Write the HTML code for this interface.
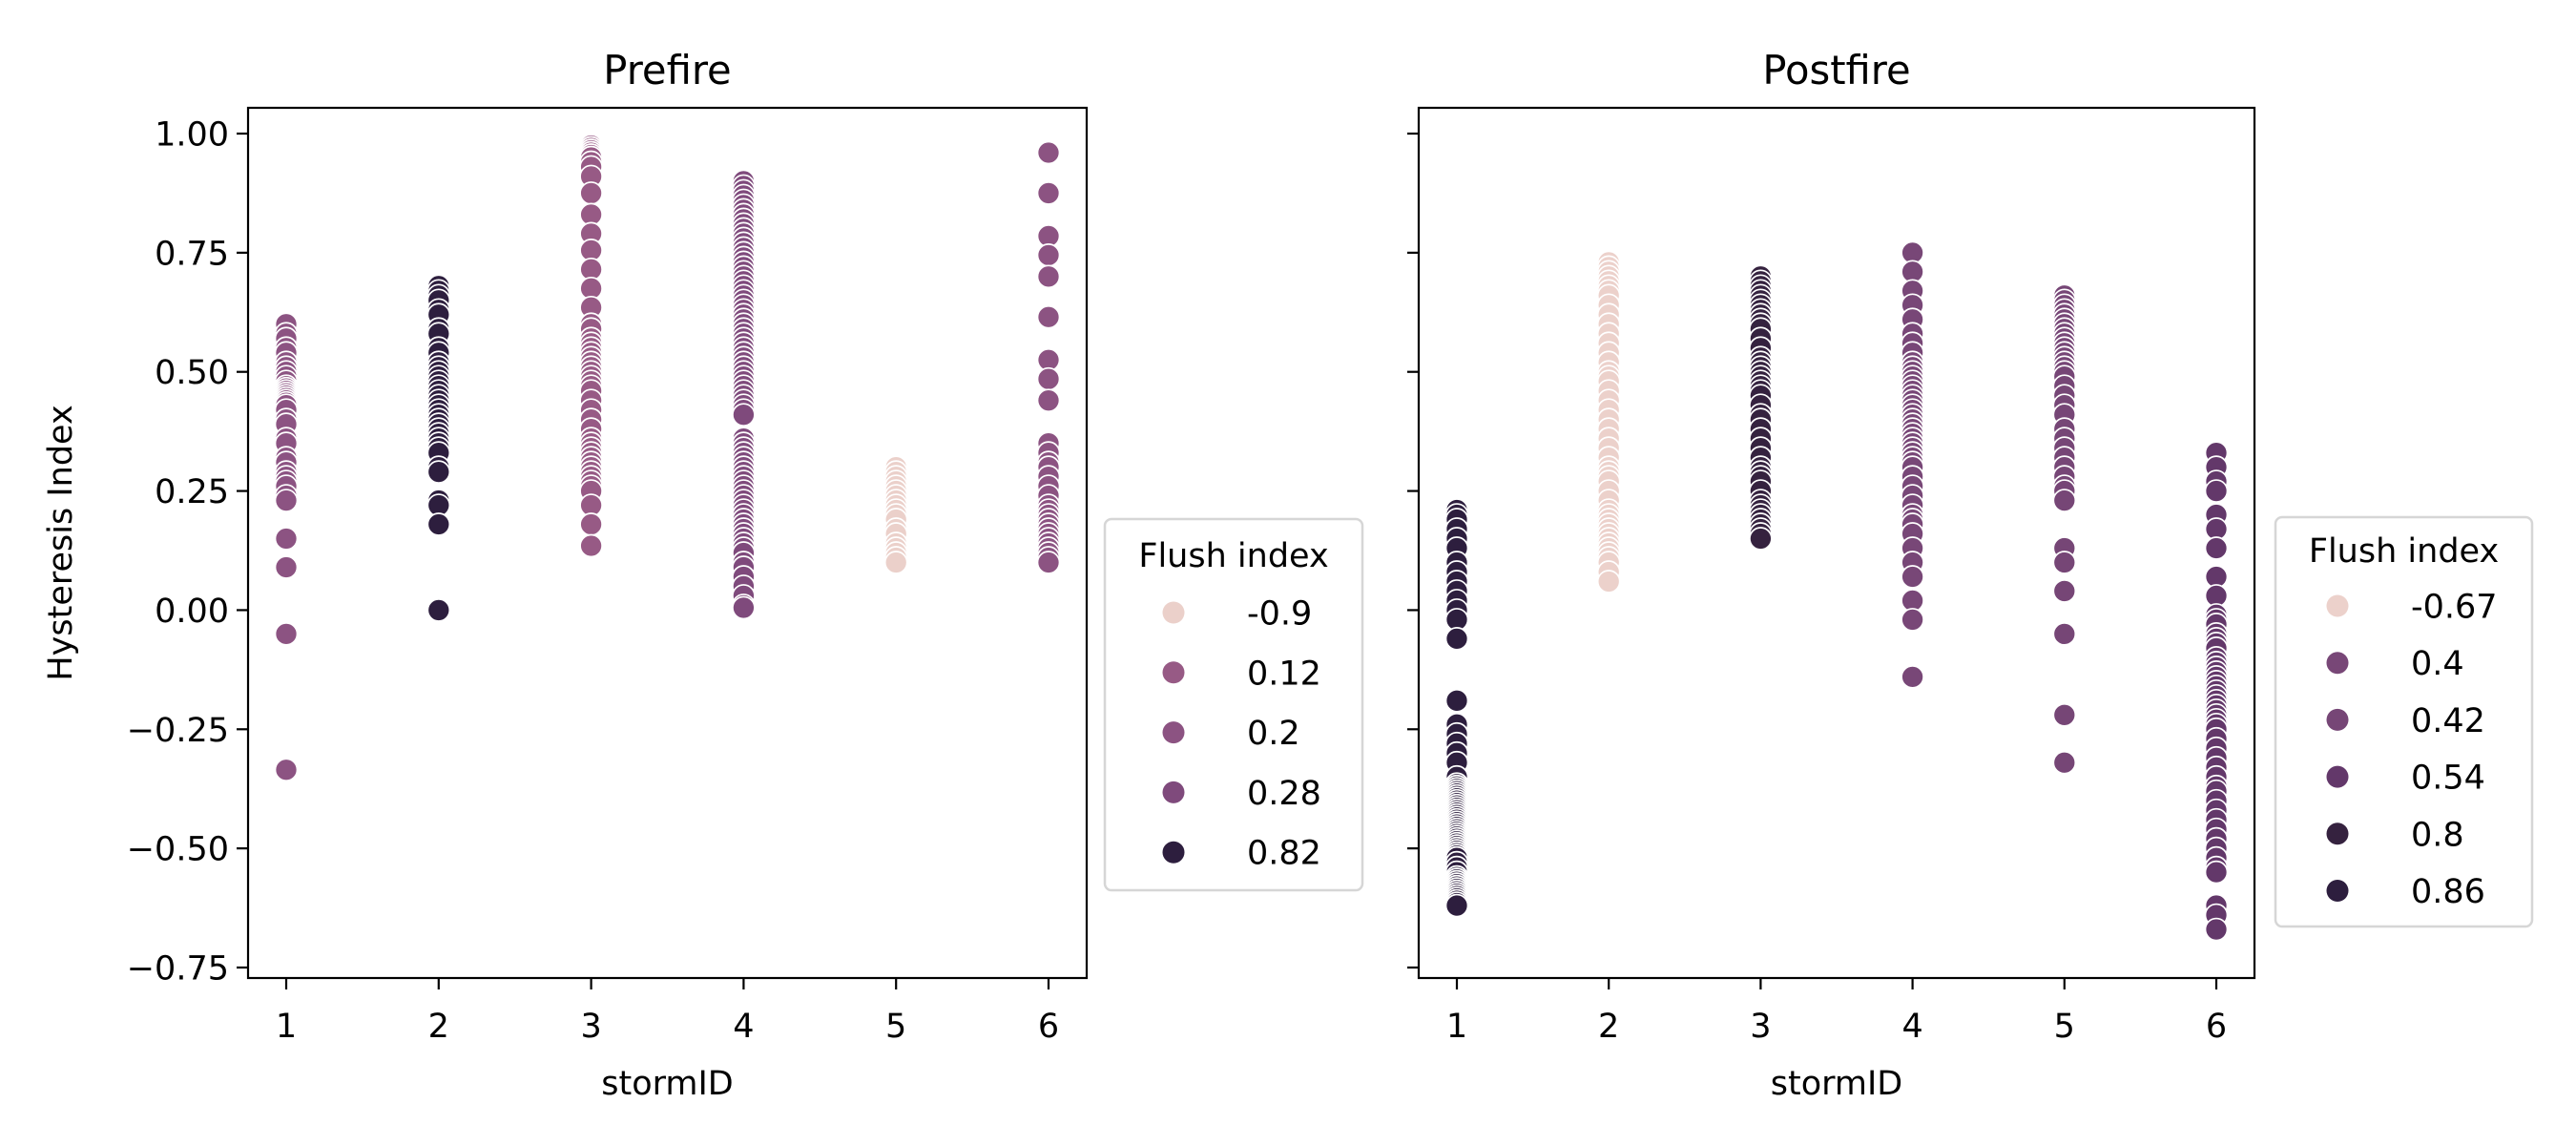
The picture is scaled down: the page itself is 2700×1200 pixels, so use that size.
<!DOCTYPE html>
<html><head><meta charset="utf-8"><style>
html,body{margin:0;padding:0;background:#fff;}
svg{display:block;font-family:"DejaVu Sans","Liberation Sans",sans-serif;}
</style></head><body>
<svg id="chart" width="2700" height="1200" viewBox="0 0 2700 1200" xmlns="http://www.w3.org/2000/svg">
<rect width="2700" height="1200" fill="#fff"/>
<g id="root"></g>
</svg>
<script>
const storms = [1,2,3,4,5,6];
const yTicks = [1.00,0.75,0.50,0.25,0.00,-0.25,-0.50,-0.75];
const yTickLabels = ["1.00","0.75","0.50","0.25","0.00","\u22120.25","\u22120.50","\u22120.75"];

const preLegendLabels = ["-0.9","0.12","0.2","0.28","0.82"];
const preLegendColors = ["#ebd0ca","#975a85","#8c5382","#7f4a7c","#2d1e3e"];
const postLegendLabels = ["-0.67","0.4","0.42","0.54","0.8","0.86"];
const postLegendColors = ["#ecd1cb","#784777","#764676","#63386a","#35223f","#2d1e3e"];

const preColorIdx = [2,4,1,3,0,2];
const postColorIdx = [5,0,4,1,2,3];

const pre1 = [0.60,0.58,0.57,0.55,0.54,0.52,0.51,0.50,0.49,0.48,0.47,0.465,0.46,0.455,0.45,0.445,0.44,0.435,0.43,0.42,0.40,0.39,0.36,0.35,0.32,0.31,0.29,0.28,0.27,0.26,0.24,0.23,0.15,0.09,-0.05,-0.335];
const pre2 = [0.68,0.67,0.66,0.65,0.63,0.62,0.59,0.58,0.55,0.54,0.52,0.51,0.50,0.49,0.48,0.47,0.46,0.45,0.44,0.43,0.42,0.41,0.40,0.39,0.38,0.37,0.36,0.35,0.34,0.33,0.30,0.29,0.23,0.22,0.18,0.00];
const pre3 = [0.975,0.97,0.965,0.96,0.955,0.95,0.94,0.93,0.91,0.875,0.83,0.79,0.755,0.715,0.675,0.635,0.60,0.59,0.57,0.56,0.55,0.54,0.53,0.52,0.51,0.50,0.49,0.48,0.47,0.46,0.44,0.42,0.40,0.38,0.36,0.35,0.34,0.33,0.32,0.31,0.30,0.29,0.28,0.27,0.26,0.25,0.22,0.18,0.135];
const pre4 = [0.90,0.89,0.88,0.87,0.86,0.85,0.84,0.83,0.82,0.81,0.80,0.79,0.78,0.77,0.76,0.75,0.74,0.73,0.72,0.71,0.70,0.69,0.68,0.67,0.66,0.65,0.64,0.63,0.62,0.61,0.60,0.59,0.58,0.57,0.56,0.55,0.54,0.53,0.52,0.51,0.50,0.49,0.48,0.47,0.46,0.45,0.44,0.43,0.42,0.41,0.36,0.35,0.34,0.33,0.32,0.31,0.30,0.29,0.28,0.27,0.26,0.25,0.24,0.23,0.22,0.21,0.20,0.19,0.18,0.17,0.16,0.15,0.14,0.13,0.12,0.10,0.09,0.07,0.05,0.03,0.01,0.005];
const pre5 = [0.30,0.29,0.28,0.27,0.26,0.25,0.24,0.23,0.22,0.21,0.20,0.19,0.17,0.16,0.14,0.13,0.12,0.11,0.10];
const pre6 = [0.96,0.875,0.785,0.745,0.70,0.615,0.525,0.485,0.44,0.35,0.33,0.31,0.30,0.28,0.26,0.24,0.22,0.21,0.20,0.19,0.18,0.17,0.16,0.15,0.14,0.13,0.12,0.11,0.10];

const post1 = [0.21,0.20,0.19,0.17,0.15,0.13,0.10,0.08,0.06,0.04,0.02,0.00,-0.02,-0.06,-0.19,-0.24,-0.26,-0.28,-0.30,-0.32,-0.35,-0.365,-0.37,-0.375,-0.38,-0.385,-0.39,-0.395,-0.40,-0.405,-0.41,-0.415,-0.42,-0.425,-0.43,-0.435,-0.44,-0.445,-0.45,-0.455,-0.46,-0.465,-0.47,-0.475,-0.48,-0.485,-0.49,-0.495,-0.50,-0.505,-0.51,-0.515,-0.52,-0.53,-0.54,-0.55,-0.56,-0.565,-0.57,-0.575,-0.58,-0.585,-0.59,-0.595,-0.60,-0.605,-0.61,-0.615,-0.62];
const post2 = [0.73,0.72,0.71,0.70,0.69,0.68,0.67,0.66,0.64,0.62,0.60,0.58,0.56,0.54,0.52,0.50,0.49,0.48,0.46,0.44,0.42,0.40,0.38,0.36,0.34,0.32,0.30,0.29,0.28,0.27,0.25,0.23,0.21,0.20,0.19,0.18,0.17,0.16,0.15,0.14,0.13,0.12,0.11,0.10,0.08,0.06];
const post3 = [0.70,0.69,0.68,0.67,0.66,0.65,0.64,0.63,0.62,0.61,0.60,0.59,0.57,0.55,0.53,0.52,0.51,0.50,0.49,0.48,0.47,0.46,0.45,0.43,0.41,0.40,0.38,0.36,0.34,0.32,0.30,0.29,0.28,0.27,0.25,0.23,0.22,0.21,0.20,0.19,0.18,0.17,0.16,0.15];
const post4 = [0.75,0.71,0.67,0.64,0.61,0.58,0.56,0.54,0.52,0.51,0.50,0.49,0.48,0.47,0.46,0.45,0.44,0.43,0.42,0.41,0.40,0.39,0.38,0.37,0.36,0.35,0.34,0.33,0.32,0.31,0.30,0.28,0.26,0.24,0.22,0.20,0.19,0.18,0.16,0.13,0.10,0.07,0.02,-0.02,-0.14];
const post5 = [0.66,0.65,0.64,0.63,0.62,0.61,0.60,0.59,0.58,0.57,0.56,0.55,0.54,0.53,0.52,0.51,0.50,0.49,0.47,0.45,0.43,0.41,0.38,0.36,0.34,0.32,0.30,0.28,0.26,0.25,0.23,0.13,0.10,0.04,-0.05,-0.22,-0.32];
const post6 = [0.33,0.30,0.27,0.25,0.20,0.17,0.13,0.07,0.03,-0.01,-0.02,-0.03,-0.05,-0.06,-0.07,-0.08,-0.10,-0.11,-0.12,-0.13,-0.14,-0.15,-0.16,-0.17,-0.18,-0.19,-0.20,-0.21,-0.22,-0.23,-0.24,-0.25,-0.27,-0.29,-0.31,-0.33,-0.35,-0.37,-0.38,-0.40,-0.42,-0.44,-0.46,-0.48,-0.50,-0.52,-0.54,-0.55,-0.62,-0.64,-0.67];

const preSeries = [pre1,pre2,pre3,pre4,pre5,pre6];
const postSeries = [post1,post2,post3,post4,post5,post6];

const NS = "http://www.w3.org/2000/svg";
const root = document.getElementById("root");
function mk(tag, attrs, parent, text){
  const e = document.createElementNS(NS, tag);
  for (const k in attrs) e.setAttribute(k, attrs[k]);
  if (text !== undefined) e.textContent = text;
  (parent || root).appendChild(e);
  return e;
}
const yMin=-0.75, yMax=1.00, yTop=140, yBot=1014;
function yScale(v){ return yTop + (yMax - v) / (yMax - yMin) * (yBot - yTop); }

function panel(opts){
  const g = mk("g", {});
  
  
  const L=opts.left, R=opts.right, T=113, B=1025;
  const x1 = L + 40, x6 = R - 40;
  const xScale = v => x1 + (v - 1) / 5 * (x6 - x1);
  const pts = mk("g", {}, g);
  
  
  opts.series.forEach((arr, si) => {
    const col = opts.legendColors[opts.colorIdx[si]];
    arr.forEach(v => {
      const c = mk("circle", {cx: xScale(storms[si]), cy: yScale(v), r: 11.5, fill: col, stroke: "#fff", "stroke-width": 1.7}, pts);
      
      
    });
  });
  const fr = mk("rect", {x: L, y: T, width: R - L, height: B - T, fill: "none", stroke: "#000", "stroke-width": 2.2}, g);
  
  
  storms.forEach(s => {
    const x = xScale(s);
    mk("line", {x1: x, x2: x, y1: B, y2: B + 12, stroke: "#000", "stroke-width": 2.2}, g);
    const t = mk("text", {x: x, y: 1087, "text-anchor": "middle", "font-size": 35}, g, String(s));
    
    
  });
  yTicks.forEach((v, i) => {
    const y = yScale(v);
    mk("line", {x1: L - 12, x2: L, y1: y, y2: y, stroke: "#000", "stroke-width": 2.2}, g);
    if (opts.showYLabels) {
      const t = mk("text", {x: L - 20, y: y + 12.5, "text-anchor": "end", "font-size": 35}, g, yTickLabels[i]);
      
      
    }
  });
  const xl = mk("text", {x: (L + R) / 2, y: 1147, "text-anchor": "middle", "font-size": 35}, g, "stormID");
  
  
  const tt = mk("text", {x: (L + R) / 2, y: 88, "text-anchor": "middle", "font-size": 41.7}, g, opts.title);
  
  
  const lg = mk("g", {}, g);
  
  
  const lb = opts.legendBox;
  mk("rect", {x: lb.x, y: lb.y, width: lb.w, height: lb.h, rx: 7, fill: "#fff", stroke: "#d6d6d6", "stroke-width": 2.5}, lg);
  const lt = mk("text", {x: lb.x + lb.w / 2, y: lb.titleY, "text-anchor": "middle", "font-size": 35}, lg, "Flush index");
  
  
  opts.legendLabels.forEach((lab, i) => {
    const y = lb.firstY + i * lb.step;
    const e = mk("g", {}, lg);
    
    
    mk("circle", {cx: lb.markX, cy: y, r: 11.5, fill: opts.legendColors[i]}, e);
    mk("text", {x: lb.textX, y: y + 12.5, "font-size": 35}, e, lab);
  });
}

panel({name: "prefire-panel", title: "Prefire", left: 260, right: 1139, series: preSeries, colorIdx: preColorIdx,
  legendLabels: preLegendLabels, legendColors: preLegendColors, showYLabels: true,
  legendBox: {x: 1158, y: 544, w: 270, h: 389, titleY: 594, firstY: 642, step: 62.8, markX: 1230, textX: 1307}});
panel({name: "postfire-panel", title: "Postfire", left: 1487, right: 2363, series: postSeries, colorIdx: postColorIdx,
  legendLabels: postLegendLabels, legendColors: postLegendColors, showYLabels: false,
  legendBox: {x: 2385, y: 542, w: 269, h: 429, titleY: 589, firstY: 635, step: 59.7, markX: 2450, textX: 2527}});

const yl = mk("text", {x: 0, y: 0, "text-anchor": "middle", "font-size": 35, transform: "translate(75,569) rotate(-90)"}, root, "Hysteresis Index");


</script>
</body></html>
